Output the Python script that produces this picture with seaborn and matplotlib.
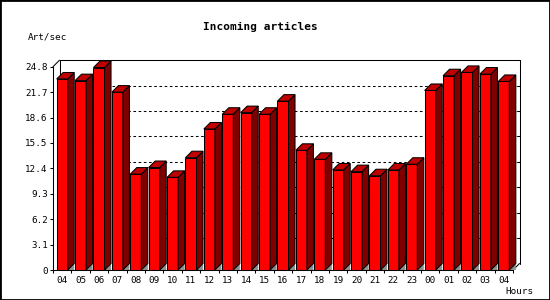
import matplotlib
matplotlib.use("Agg")
import matplotlib.pyplot as plt
import seaborn as sns
import pandas as pd
from matplotlib.patches import Polygon, Rectangle
from matplotlib.lines import Line2D

# ---- data ----
hours = ["04", "05", "06", "07", "08", "09", "10", "11", "12", "13", "14", "15",
         "16", "17", "18", "19", "20", "21", "22", "23", "00", "01", "02", "03", "04"]
values = [23.3, 23.1, 24.7, 21.7, 11.7, 12.5, 11.3, 13.7, 17.2, 19.0, 19.2, 19.0,
          20.6, 14.6, 13.5, 12.2, 12.0, 11.5, 12.2, 12.9, 21.9, 23.7, 24.1, 23.9, 23.0]
y_ticks = [0, 3.1, 6.2, 9.3, 12.4, 15.5, 18.6, 21.7, 24.8]
y_tick_labels = ["0", "3.1", "6.2", "9.3", "12.4", "15.5", "18.6", "21.7", "24.8"]
title = "Incoming articles"
y_label = "Art/sec"
x_label = "Hours"

FRONT = "#ff0000"
SIDE = "#800000"
TOP = "#c00000"
FLOOR = "#909090"

sns.set_style("white")
plt.rcParams["font.family"] = ["DejaVu Sans Mono", "DejaVu Sans"]

W, H, DPI = 550, 300, 100
fig = plt.figure(figsize=(W / DPI, H / DPI), dpi=DPI)
fig.patch.set_facecolor("white")

# front plane of the axes in pixels
left_px, right_px, top_px, bottom_px = 53, 513, 66.7, 270
ax = fig.add_axes([left_px / W, 1 - bottom_px / H,
                   (right_px - left_px) / W, (bottom_px - top_px) / H])
ax.set_facecolor("none")

df = pd.DataFrame({"slot": list(range(len(values))), "value": values})
sns.barplot(data=df, x="slot", y="value", width=0.6, color=FRONT, saturation=1,
            edgecolor="black", linewidth=0.75, ax=ax, zorder=3)

n = len(values)
ax.set_xlim(-0.5, n - 0.5)
ymax = y_ticks[-1]
ax.set_ylim(0, ymax)

# depth offset (pixels -> data units)
depth_px = 6.5
dx = depth_px / ((right_px - left_px) / n)
dy = depth_px / ((bottom_px - top_px) / ymax)

lw = 0.75
# back wall frame
x_back_l, x_back_r = -0.5 + dx, n - 0.5 + dx
frame_lines = [
    ([x_back_l, x_back_l, x_back_r, x_back_r], [dy, ymax + dy, ymax + dy, dy]),
    ([-0.5, x_back_l], [ymax, ymax + dy]),
    ([n - 0.5, x_back_r], [0, dy]),
]
for xs, ys in frame_lines:
    ax.add_line(Line2D(xs, ys, color="black", lw=lw, clip_on=False, zorder=1))

# dotted grid lines on the back wall + small ticks on the right back edge
tick_dx = 3 / ((right_px - left_px) / n)
for v in y_ticks[1:-1]:
    ax.add_line(Line2D([x_back_l, x_back_r], [v + dy, v + dy], color="black",
                       lw=lw, dashes=(2.5, 2.5), clip_on=False, zorder=1))
    ax.add_line(Line2D([x_back_r - tick_dx, x_back_r], [v + dy, v + dy],
                       color="black", lw=lw, clip_on=False, zorder=1))

# 3D faces of each bar
for p in list(ax.patches):
    x0, w, h = p.get_x(), p.get_width(), p.get_height()
    x1 = x0 + w
    floor = Polygon([(x1, 0), (x1 + dx, dy), (x1 + dx, 0)], closed=True,
                    facecolor=FLOOR, edgecolor="none", clip_on=False, zorder=2)
    side = Polygon([(x1, 0), (x1 + dx, dy), (x1 + dx, h + dy), (x1, h)], closed=True,
                   facecolor=SIDE, edgecolor="black", lw=lw, clip_on=False, zorder=3)
    top = Polygon([(x0, h), (x0 + dx, h + dy), (x1 + dx, h + dy), (x1, h)], closed=True,
                  facecolor=TOP, edgecolor="black", lw=lw, clip_on=False, zorder=3)
    ax.add_patch(floor)
    ax.add_patch(side)
    ax.add_patch(top)

# axes styling
for s in ["top", "right"]:
    ax.spines[s].set_visible(False)
for s in ["left", "bottom"]:
    ax.spines[s].set_color("black")
    ax.spines[s].set_linewidth(lw)
    ax.spines[s].set_zorder(4)

ax.set_yticks(y_ticks)
ax.set_yticklabels(y_tick_labels)
ax.set_xticks(range(n))
ax.set_xticklabels(hours)
ax.set_xticks([i - 0.5 for i in range(n + 1)], minor=True)
ax.tick_params(axis="y", which="major", left=True, length=2.2, width=lw,
               color="black", pad=1.5, labelsize=6.7, labelcolor="black")
ax.tick_params(axis="x", which="major", bottom=True, length=0, pad=4,
               labelsize=6.7, labelcolor="black")
ax.tick_params(axis="x", which="minor", bottom=True, length=2.2, width=lw,
               color="black")
ax.set_xlabel("")
ax.set_ylabel("")
ax.grid(False)

# texts
fig.text(260 / W, 1 - 27 / H, title, ha="center", va="center",
         fontsize=8, fontweight="bold", color="black")
fig.text(28 / W, 1 - 37 / H, y_label, ha="left", va="center",
         fontsize=6.7, color="black")
fig.text(534 / W, 1 - 292 / H, x_label, ha="right", va="center",
         fontsize=6.7, color="black")

# outer border
fig.add_artist(Rectangle((0, 0), 1, 1, transform=fig.transFigure, fill=False,
                         edgecolor="black", lw=2))

fig.savefig("out.png", dpi=DPI)
